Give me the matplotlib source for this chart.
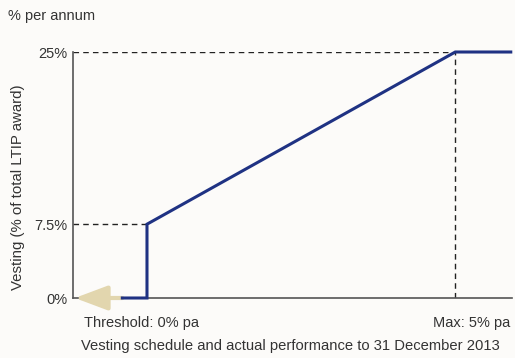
import matplotlib
matplotlib.use("Agg")
import matplotlib.pyplot as plt

plt.rcParams['font.family'] = ['Liberation Sans', 'DejaVu Sans']

# Vesting schedule (performance % pa -> vesting % of award)
perf = [-0.4, 0.0, 0.0, 5.0, 5.9]
vest = [0.0, 0.0, 7.5, 25.0, 25.0]
threshold_perf, threshold_vest = 0.0, 7.5
max_perf, max_vest = 5.0, 25.0
ytick_vals = [0, 7.5, 25]
ytick_labels = ["0%", "7.5%", "25%"]

navy = "#1f3283"
beige = "#e2d6ae"
grey = "#555555"
bg = "#fcfbf9"

fig = plt.figure(figsize=(5.15, 3.58), dpi=100, facecolor=bg)
ax = fig.add_axes([73 / 515, 1 - 298 / 358, (512 - 73) / 515, (298 - 52) / 358])
ax.set_facecolor(bg)
ax.set_xlim(-1.2, 5.92)
ax.set_ylim(0, 25)

# reference dashes
ax.plot([-1.2, max_perf], [max_vest, max_vest], ls=(0, (4, 3)), color="#222222", lw=1.0)
ax.plot([-1.2, threshold_perf], [threshold_vest, threshold_vest], ls=(0, (4, 3)), color="#222222", lw=1.0)
ax.plot([max_perf, max_perf], [0, max_vest], ls=(0, (4, 3)), color="#222222", lw=1.0)

# actual performance arrow
ax.annotate("", xy=(-1.17, 0), xytext=(perf[0], 0),
            arrowprops=dict(arrowstyle="-|>,head_length=2.0,head_width=0.75",
                            color=beige, lw=3, shrinkA=0, shrinkB=0),
            annotation_clip=False, zorder=4)

ax.plot(perf, vest, color=navy, lw=2.2, solid_joinstyle="miter", clip_on=False, zorder=5)

for s in ["top", "right"]:
    ax.spines[s].set_visible(False)
for s in ["left", "bottom"]:
    ax.spines[s].set_color(grey)
    ax.spines[s].set_linewidth(1.2)

ax.set_yticks(ytick_vals)
ax.set_yticklabels(ytick_labels)
ax.set_xticks([])
ax.tick_params(axis="y", length=0, pad=4, labelsize=10.5, labelcolor="#333333")

fig.text(18 / 515, 1 - 187 / 358, "Vesting (% of total LTIP award)", rotation=90,
         ha="center", va="center", fontsize=10.8, color="#333333")
fig.text(142 / 515, 1 - 323 / 358, "Threshold: 0% pa", ha="center", va="center",
         fontsize=10.5, color="#333333")
fig.text(510 / 515, 1 - 323 / 358, "Max: 5% pa", ha="right", va="center",
         fontsize=10.5, color="#333333")
fig.text(290 / 515, 1 - 346 / 358, "Vesting schedule and actual performance to 31 December 2013",
         ha="center", va="center", fontsize=10.6, color="#333333")
fig.text(8 / 515, 1 - 16 / 358, "% per annum", ha="left", va="center",
         fontsize=10.5, color="#333333")

fig.savefig("out.png", dpi=100, facecolor=bg)
